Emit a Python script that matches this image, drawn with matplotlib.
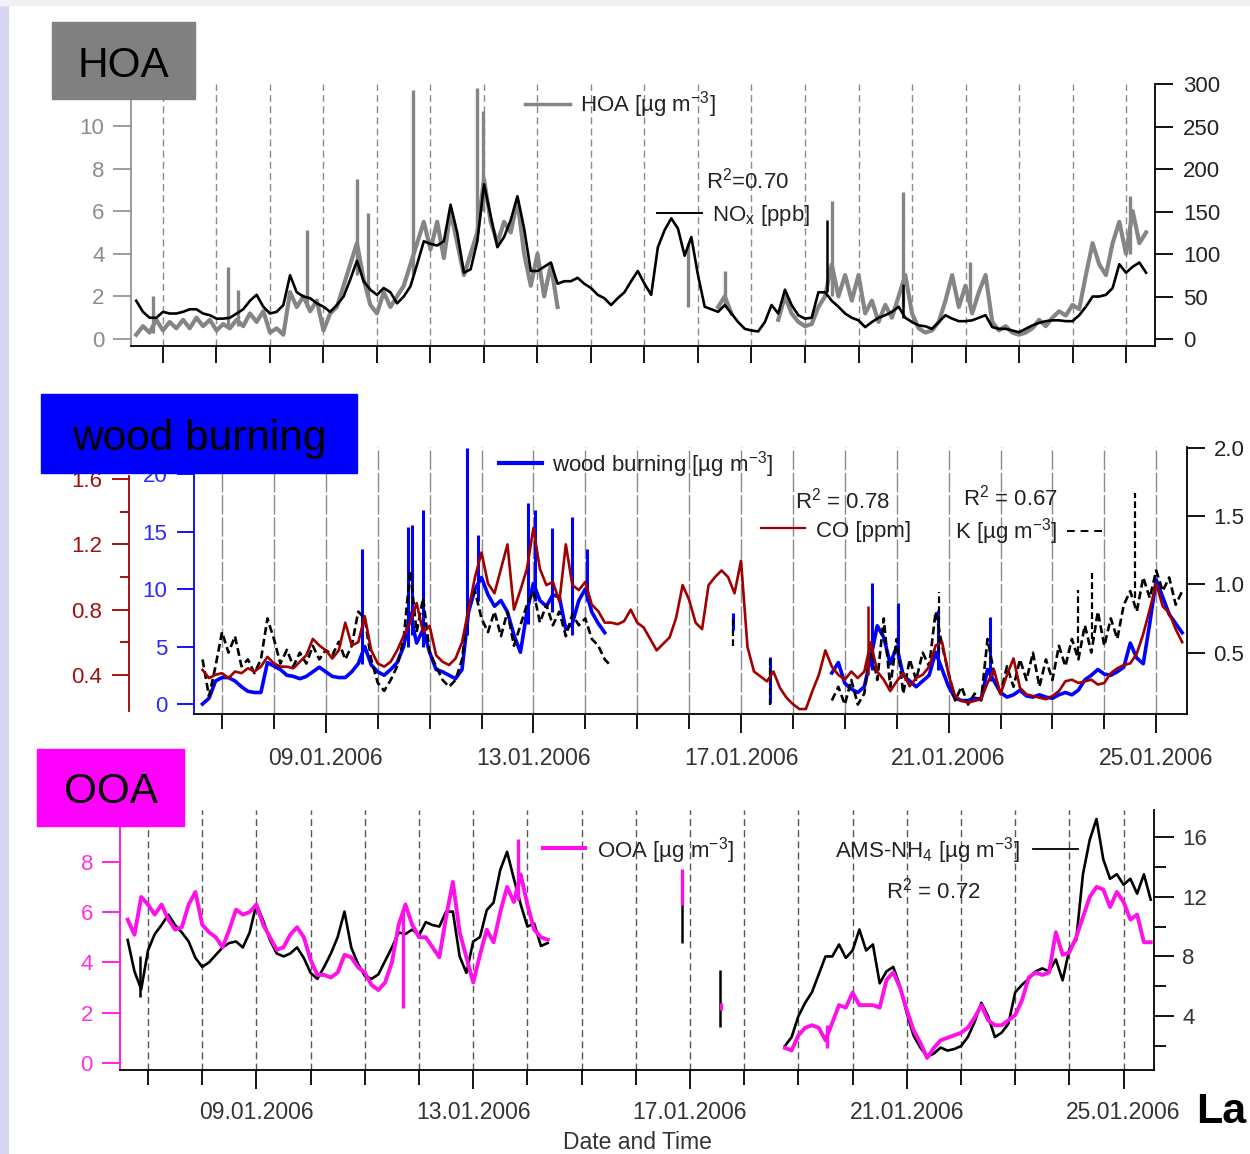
import numpy as np
import matplotlib.pyplot as plt
from matplotlib.patches import Rectangle
from matplotlib.lines import Line2D

plt.rcParams['font.family'] = ['Liberation Sans', 'DejaVu Sans']
plt.rcParams['mathtext.fontset'] = 'custom'
plt.rcParams['mathtext.rm'] = 'Liberation Sans'
plt.rcParams['mathtext.it'] = 'Liberation Sans:italic'
plt.rcParams['mathtext.bf'] = 'Liberation Sans:bold'

nan = np.nan
# all series are 3-hourly, time in days counted from 06.01.2006 00:00,
# first value at 06.01 12:00; every row below holds one day (noon to 09:00 next day)
T0, STEP = 0.5, 0.125

days = list(range(1, 20))
date_days = [3, 7, 11, 15, 19]
date_labels = ['09.01.2006', '13.01.2006', '17.01.2006', '21.01.2006', '25.01.2006']

# ---------------- HOA panel ----------------
hoa = [0.2, 0.6, 0.3, 0.9, 0.4, 0.8, 0.5, 0.9,
       0.5, 1.0, 0.6, 0.9, 0.4, 0.7, 0.5, 0.9,
       0.6, 1.2, 0.8, 1.3, 0.3, 0.5, 0.2, 2.2,
       1.5, 2.0, 1.3, 1.8, 0.4, 1.2, 1.5, 2.5,
       3.5, 4.5, 2.8, 1.6, 1.2, 2.2, 1.5, 2.0,
       2.5, 3.5, 4.5, 5.5, 4.2, 5.5, 3.8, 6.0,
       4.5, 3.0, 4.0, 5.0, 7.5, 5.5, 4.5, 5.5,
       5.0, 6.5, 4.0, 2.5, 4.0, 2.0, 3.5, 1.5,
       nan, nan, nan, nan, nan, nan, nan, nan,
       nan, nan, nan, nan, nan, nan, nan, nan,
       nan, nan, nan, nan, nan, nan, nan, 1.5,
       2.0, 1.2, nan, nan, nan, nan, nan, nan,
       0.9, 2.0, 1.2, 0.8, 0.6, 0.7, 1.5, 2.0,
       3.5, 2.0, 3.0, 1.8, 3.0, 1.2, 1.8, 0.8,
       1.6, 1.0, 2.0, 3.0, 1.2, 0.5, 0.3, 0.4,
       0.8, 1.8, 3.0, 1.5, 2.5, 1.2, 2.2, 3.0,
       0.8, 0.4, 0.6, 0.3, 0.2, 0.3, 0.5, 0.9,
       0.6, 1.0, 1.3, 1.1, 1.6, 1.4, 3.0, 4.5,
       3.5, 3.0, 4.5, 5.5, 4.0, 6.0, 4.5, 5.0]
nox = [45, 32, 25, 25, 32, 30, 30, 32,
       35, 35, 30, 28, 24, 24, 25, 30,
       35, 45, 52, 38, 30, 32, 40, 75,
       55, 50, 48, 42, 38, 32, 40, 50,
       70, 92, 68, 58, 52, 60, 55, 42,
       50, 62, 88, 115, 112, 110, 115, 158,
       125, 78, 82, 115, 182, 145, 108, 120,
       140, 168, 130, 80, 80, 85, 90, 65,
       68, 68, 72, 65, 60, 52, 48, 40,
       48, 55, 68, 80, 65, 52, 108, 128,
       142, 130, 98, 120, 75, 38, 35, 32,
       40, 30, 20, 12, 10, 9, 20, 40,
       30, 58, 40, 28, 24, 25, 55, 55,
       45, 38, 30, 25, 22, 14, 20, 25,
       28, 32, 38, 25, 20, 16, 15, 12,
       20, 28, 24, 21, 21, 22, 25, 28,
       14, 12, 12, 10, 8, 12, 16, 19,
       21, 22, 22, 21, 21, 28, 38, 50,
       50, 52, 60, 88, 78, 85, 90, 78]
# short spikes (day, low, high)
hoa_spk_day = [0.81, 2.22, 2.40, 3.69, 4.63, 4.83, 5.67, 6.87, 6.98, 10.81, 11.51, 13.51, 14.83, 16.08, 19.08]
hoa_spk_lo = [0.3, 0.5, 0.6, 1.5, 3.0, 2.0, 3.0, 5.0, 6.0, 1.5, 1.5, 2.0, 1.5, 1.5, 4.0]
hoa_spk_hi = [2.0, 3.4, 2.3, 5.1, 7.5, 5.9, 11.7, 11.8, 10.7, 4.5, 3.2, 6.5, 6.9, 3.6, 6.7]
nox_spk_day = [13.41, 14.83]
nox_spk_lo = [55, 25]
nox_spk_hi = [140, 65]

# ---------------- wood burning panel ----------------
wb = [nan, 0.0, 0.5, 2.0, 2.3, 2.3, 2.0, 1.5,
      1.1, 1.0, 1.0, 3.6, 3.3, 3.0, 2.5, 2.4,
      2.2, 2.4, 2.8, 3.2, 2.8, 2.4, 2.3, 2.3,
      2.8, 3.5, 5.0, 3.4, 2.8, 2.5, 3.0, 3.6,
      5.0, 7.9, 5.3, 6.5, 4.5, 3.0, 2.8, 2.5,
      2.2, 3.0, 8.0, 10.0, 11.0, 9.5, 8.5, 9.0,
      8.0, 6.0, 4.5, 8.0, 10.5, 9.0, 8.5, 9.5,
      9.3, 6.5, 7.0, 9.0, 10.0, 8.0, 7.0, 6.2,
      nan, nan, nan, nan, nan, nan, nan, nan,
      nan, nan, nan, nan, nan, nan, nan, nan,
      nan, nan, nan, nan, nan, nan, nan, nan,
      nan, nan, nan, nan, nan, nan, nan, nan,
      nan, nan, 2.7, 3.6, 1.8, 1.3, 1.0, 1.5,
      4.0, 6.8, 5.8, 3.5, 5.0, 2.5, 2.0, 1.5,
      2.0, 2.5, 4.5, 3.0, 1.5, 0.5, 0.3, 0.3,
      0.5, 0.4, 3.0, 2.0, 1.0, 0.6, 0.8, 1.2,
      0.7, 0.6, 0.8, 0.6, 0.5, 0.8, 1.0, 0.8,
      1.2, 2.1, 2.5, 3.0, 2.6, 2.5, 2.8, 3.2,
      5.3, 4.0, 3.5, 7.0, 10.8, 9.3, 7.8, 7.0,
      6.2]
co = [nan, 0.43, 0.38, 0.40, 0.41, 0.38, 0.42, 0.41,
      0.44, 0.42, 0.45, 0.51, 0.47, 0.45, 0.45, 0.44,
      0.48, 0.52, 0.62, 0.58, 0.55, 0.50, 0.55, 0.72,
      0.58, 0.60, 0.76, 0.55, 0.47, 0.45, 0.48, 0.55,
      0.64, 0.72, 0.84, 0.66, 0.70, 0.52, 0.48, 0.46,
      0.50, 0.60, 0.80, 1.00, 1.15, 0.96, 0.90, 1.05,
      1.20, 0.80, 0.92, 1.05, 1.30, 1.05, 0.95, 0.97,
      0.85, 1.20, 0.95, 0.92, 0.97, 0.83, 0.79, 0.72,
      0.72, 0.71, 0.73, 0.80, 0.72, 0.69, 0.62, 0.55,
      0.59, 0.63, 0.75, 0.95, 0.86, 0.72, 0.68, 0.95,
      1.00, 1.04, 1.00, 0.90, 1.10, 0.57, 0.42, 0.39,
      0.36, 0.42, 0.32, 0.26, 0.22, 0.19, 0.19, 0.30,
      0.40, 0.55, 0.45, 0.40, 0.37, 0.42, 0.38, 0.42,
      0.60, 0.42, 0.37, 0.30, 0.36, 0.41, 0.33, 0.38,
      0.40, 0.45, 0.58, 0.60, 0.40, 0.27, 0.24, 0.23,
      0.24, 0.25, 0.35, 0.43, 0.28, 0.40, 0.50, 0.32,
      0.28, 0.27, 0.26, 0.25, 0.27, 0.30, 0.36, 0.37,
      0.35, 0.36, 0.37, 0.34, 0.35, 0.41, 0.44, 0.46,
      0.47, 0.53, 0.65, 0.80, 0.96, 0.82, 0.78, 0.68,
      0.60]
k_conc = [nan, 0.45, 0.18, 0.40, 0.65, 0.50, 0.62, 0.40,
          0.45, 0.35, 0.45, 0.75, 0.60, 0.42, 0.52, 0.40,
          0.50, 0.42, 0.55, 0.45, 0.52, 0.48, 0.58, 0.45,
          0.55, 0.80, 0.75, 0.45, 0.28, 0.22, 0.30, 0.40,
          0.60, 1.10, 0.65, 0.90, 0.50, 0.40, 0.30, 0.25,
          0.30, 0.45, 0.85, 0.95, 0.75, 0.65, 0.80, 0.62,
          0.80, 0.55, 0.70, 0.85, 0.95, 0.72, 0.85, 0.70,
          0.80, 0.62, 0.78, 0.70, 0.75, 0.60, 0.55, 0.45,
          0.40, nan, nan, nan, nan, nan, nan, nan,
          nan, nan, nan, nan, nan, nan, nan, nan,
          nan, nan, nan, nan, nan, nan, nan, nan,
          nan, nan, nan, nan, nan, nan, nan, nan,
          nan, nan, 0.15, 0.25, 0.12, 0.30, 0.12, 0.20,
          0.55, 0.30, 0.75, 0.25, 0.60, 0.20, 0.45, 0.30,
          0.50, 0.40, 0.80, 0.55, 0.35, 0.15, 0.25, 0.12,
          0.20, 0.15, 0.60, 0.35, 0.20, 0.40, 0.25, 0.45,
          0.30, 0.50, 0.25, 0.45, 0.30, 0.55, 0.40, 0.60,
          0.45, 0.70, 0.50, 0.80, 0.55, 0.75, 0.60, 0.85,
          0.95, 0.80, 1.05, 0.90, 1.10, 0.95, 1.05, 0.85,
          0.95]
wb_spk_day = [3.70, 4.58, 4.66, 4.87, 5.72, 5.93, 6.90, 7.03, 7.36, 7.74, 8.03, 10.85, 11.56, 13.52, 14.03, 14.80, 15.80]
wb_spk_lo = [3.5, 5.0, 6.0, 5.0, 6.0, 9.0, 7.0, 9.0, 8.0, 6.0, 9.0, 6.4, 0.1, 3.0, 4.0, 3.0, 2.0]
wb_spk_hi = [13.5, 15.4, 15.6, 16.9, 22.3, 14.7, 17.5, 16.9, 15.3, 16.3, 13.5, 7.9, 4.1, 10.5, 8.8, 8.2, 7.6]
k_spk_day = [10.85, 11.56, 14.82, 17.49, 17.76, 18.59]
k_spk_lo = [0.55, 0.12, 0.50, 0.50, 0.60, 0.90]
k_spk_hi = [0.75, 0.45, 0.94, 0.96, 1.08, 1.67]
co_spk_day = [13.45]
co_spk_lo = [0.40]
co_spk_hi = [0.82]

# ---------------- OOA panel ----------------
ooa = [nan, 5.7, 5.1, 6.6, 6.3, 5.9, 6.3, 5.7,
       5.3, 5.4, 6.3, 6.8, 5.5, 5.2, 5.0, 4.6,
       5.3, 6.1, 5.9, 6.0, 6.3, 5.5, 5.0, 4.5,
       4.6, 5.1, 5.4, 5.0, 4.1, 3.5, 3.5, 3.4,
       3.6, 4.3, 4.2, 3.8, 3.6, 3.1, 2.9, 3.2,
       4.0, 5.5, 6.3, 5.5, 5.0, 5.0, 4.6, 4.2,
       5.8, 7.2, 5.2, 4.2, 3.2, 4.3, 5.3, 4.8,
       6.0, 7.0, 6.4, 7.5, 6.3, 5.3, 5.0, 4.9,
       nan, nan, nan, nan, nan, nan, nan, nan,
       nan, nan, nan, nan, nan, nan, nan, nan,
       nan, nan, nan, nan, nan, nan, nan, nan,
       nan, nan, nan, nan, nan, nan, nan, nan,
       nan, nan, 0.6, 0.5, 1.1, 1.4, 1.5, 1.4,
       0.9, 1.6, 2.3, 2.2, 2.8, 2.3, 2.3, 2.3,
       2.2, 3.3, 3.6, 3.0, 2.1, 1.3, 0.8, 0.2,
       0.6, 0.9, 1.0, 1.1, 1.2, 1.4, 1.8, 2.3,
       1.7, 1.5, 1.5, 1.7, 1.9, 2.5, 3.4, 3.6,
       3.5, 3.6, 5.2, 4.3, 4.4, 5.0, 5.8, 6.6,
       7.0, 6.9, 6.2, 6.8, 6.4, 5.7, 5.9, 4.8,
       4.8]
nh4 = [nan, 9.1, 7.0, 5.8, 8.4, 9.5, 10.1, 10.8,
       10.1, 9.6, 9.0, 7.9, 7.3, 7.6, 8.1, 8.6,
       8.9, 9.0, 8.6, 9.6, 11.5, 10.4, 9.1, 8.2,
       8.0, 8.2, 8.6, 7.9, 6.9, 6.5, 7.3, 8.2,
       9.3, 11.0, 8.6, 7.5, 6.7, 6.5, 6.8, 7.7,
       8.6, 9.6, 9.5, 9.8, 9.4, 10.3, 10.1, 10.0,
       11.0, 11.0, 8.0, 6.9, 9.0, 9.3, 11.1, 11.6,
       13.8, 15.0, 13.2, 11.5, 10.0, 10.2, 8.7, 8.9,
       nan, nan, nan, nan, nan, nan, nan, nan,
       nan, nan, nan, nan, nan, nan, nan, nan,
       nan, nan, nan, nan, nan, nan, nan, nan,
       nan, nan, nan, nan, nan, nan, nan, nan,
       nan, nan, 2.0, 2.6, 4.0, 4.9, 5.6, 6.8,
       8.0, 8.0, 8.8, 7.9, 8.4, 9.8, 8.4, 8.8,
       6.2, 7.0, 7.3, 6.0, 4.2, 2.7, 1.9, 1.3,
       1.5, 1.9, 1.7, 1.8, 2.0, 2.6, 3.6, 4.9,
       4.0, 2.6, 2.9, 3.5, 5.6, 6.1, 6.5, 7.0,
       7.2, 7.0, 7.8, 6.4, 8.5, 9.1, 13.5, 15.8,
       17.2, 14.5, 13.2, 13.5, 12.8, 13.2, 12.2, 13.5,
       11.8]
ooa_spk_day = [5.71, 7.83, 10.86, 11.58, 13.53]
ooa_spk_lo = [2.2, 6.5, 6.3, 2.1, 0.6]
ooa_spk_hi = [6.0, 8.9, 7.7, 2.4, 1.5]
nh4_spk_day = [0.85, 10.85, 11.55]
nh4_spk_lo = [5.3, 8.9, 3.3]
nh4_spk_hi = [8.0, 11.6, 7.1]


def times(vals):
    return T0 + STEP * np.arange(len(vals))


W, H = 1250, 1154
fig = plt.figure(figsize=(W / 100, H / 100), dpi=100)


def box(left, top, right, bottom):
    return [left / W, 1 - bottom / H, (right - left) / W, (bottom - top) / H]


def fxy(x, y):
    return x / W, 1 - y / H


def ftext(x, y, s, **kw):
    kw.setdefault('fontsize', 16)
    kw.setdefault('color', '#222222')
    kw.setdefault('va', 'baseline')
    fig.text(x / W, 1 - y / H, s, **kw)


def fline(x0, x1, y, **kw):
    fig.add_artist(Line2D([x0 / W, x1 / W], [1 - y / H, 1 - y / H], transform=fig.transFigure, **kw))


def title_box(left, top, right, bottom, color, label, base):
    fig.add_artist(Rectangle(fxy(left, bottom), (right - left) / W, (bottom - top) / H,
                             transform=fig.transFigure, facecolor=color,
                             edgecolor=color, lw=1, zorder=5))
    fig.text((left + right) / 2 / W, 1 - base / H, label, ha='center', va='baseline',
             fontsize=30.5, color='black', zorder=6)


def style_time_axis(ax, labelled, pad):
    if labelled:
        ax.set_xticks(date_days)
        ax.set_xticklabels(date_labels)
        ax.set_xticks([d for d in days if d not in date_days], minor=True)
        ax.tick_params(axis='x', which='major', length=13.8, width=1.3, direction='out',
                       color='black', labelcolor='#333333', labelsize=16.5, pad=pad)
        ax.tick_params(axis='x', which='minor', length=10.8, width=1.3, direction='out', color='black')
    else:
        ax.set_xticks(days)
        ax.set_xticklabels([])
        ax.tick_params(axis='x', length=12.2, width=1.3, direction='out', color='black')


# page background edges
fig.add_artist(Rectangle((0, 0), 8 / W, 1, transform=fig.transFigure, color='#d6d6f2', zorder=-1))
fig.add_artist(Rectangle((0, 1 - 5 / H), 1, 5 / H, transform=fig.transFigure, color='#f1f1f5', zorder=-1))

# ================= HOA =================
ax1 = fig.add_axes(box(131, 84, 1155, 346))
ax1.set_xlim(0.402, 19.542)
ax1.set_ylim(-0.33, 11.97)
ax1r = ax1.twinx()
ax1r.set_ylim(-8.2, 300)

for d in days:
    ax1.axvline(d, color='#8a8a8a', lw=1.0, dashes=(5, 3), zorder=0)
ax1.plot(times(hoa), hoa, color='#858585', lw=3.0)
ax1.vlines(hoa_spk_day, hoa_spk_lo, hoa_spk_hi, color='#858585', lw=2.4)
ax1r.plot(times(nox), nox, color='black', lw=1.9)
ax1r.vlines(nox_spk_day, nox_spk_lo, nox_spk_hi, color='black', lw=1.8)

style_time_axis(ax1, False, 0)
ax1.set_yticks([0, 2, 4, 6, 8, 10])
ax1.tick_params(axis='y', length=13, width=1.2, color='#8c8c8c', labelcolor='#8c8c8c', labelsize=16, pad=6)
ax1r.set_yticks([0, 50, 100, 150, 200, 250, 300])
ax1r.tick_params(axis='y', length=13, width=1.3, color='black', labelcolor='#222222', labelsize=16, pad=7)
for s in ['top', 'right']:
    ax1.spines[s].set_visible(False)
ax1.spines['left'].set_color('#8c8c8c')
ax1.spines['left'].set_linewidth(1.2)
ax1.spines['bottom'].set_linewidth(1.3)
for s in ['top', 'left', 'bottom']:
    ax1r.spines[s].set_visible(False)
ax1r.spines['right'].set_linewidth(1.3)

title_box(52, 22, 195, 99, '#808080', 'HOA', 77)
fline(525, 570, 104, color='#858585', lw=2.5)
ftext(580, 112, r'HOA [µg m$^{\mathregular{-3}}$]')
ftext(706, 188, r'R$^{\mathregular{2}}$=0.70')
fline(657, 702, 213, color='black', lw=1.4)
ftext(712, 221, r'NO$_{\mathregular{x}}$ [ppb]')

# ================= wood burning =================
ax2 = fig.add_axes(box(194, 447, 1187, 714))
ax2.set_xlim(0.4605, 19.593)
ax2.set_ylim(-0.87, 22.35)
ax2k = ax2.twinx()
ax2k.set_ylim(0.051, 2.004)
ax2c = ax2.twinx()
ax2c.set_ylim(0.1595, 1.7975)

for d in days:
    ax2.axvline(d, color='#8a8a8a', lw=1.0, dashes=(14, 2), zorder=0)
ax2.plot(times(wb), wb, color='#0000ff', lw=2.6)
ax2.vlines(wb_spk_day, wb_spk_lo, wb_spk_hi, color='#0000ff', lw=2.2)
ax2k.plot(times(k_conc), k_conc, color='black', lw=1.9, dashes=(3, 1.5))
ax2k.vlines(k_spk_day, k_spk_lo, k_spk_hi, color='black', lw=1.6, linestyles=(0, (3, 1.5)))
ax2c.plot(times(co), co, color='#a00000', lw=1.9)
ax2c.vlines(co_spk_day, co_spk_lo, co_spk_hi, color='#a00000', lw=1.8)

style_time_axis(ax2, True, 10)
ax2.set_yticks([0, 5, 10, 15, 20])
ax2.tick_params(axis='y', length=12.5, width=1.3, color='#0000ff', labelcolor='#2a2aff', labelsize=16, pad=6.5)
for s in ['top', 'right']:
    ax2.spines[s].set_visible(False)
ax2.spines['left'].set_color('#0000ff')
ax2.spines['left'].set_linewidth(1.3)
ax2.spines['left'].set_bounds(-0.87, 20)
ax2.spines['bottom'].set_linewidth(1.3)

ax2k.set_yticks([0.5, 1.0, 1.5, 2.0])
ax2k.set_yticklabels(['0.5', '1.0', '1.5', '2.0'])
ax2k.tick_params(axis='y', length=13, width=1.3, color='black', labelcolor='#222222', labelsize=16, pad=6)
for s in ['top', 'left', 'bottom']:
    ax2k.spines[s].set_visible(False)
ax2k.spines['right'].set_linewidth(1.3)

ax2c.yaxis.tick_left()
ax2c.spines['left'].set_visible(True)
ax2c.spines['left'].set_position(('outward', 46.8))
ax2c.spines['left'].set_bounds(0.18, 1.62)
ax2c.spines['left'].set_color('#a00000')
ax2c.spines['left'].set_linewidth(1.3)
for s in ['top', 'right', 'bottom']:
    ax2c.spines[s].set_visible(False)
ax2c.set_yticks([0.4, 0.8, 1.2, 1.6])
ax2c.set_yticklabels(['0.4', '0.8', '1.2', '1.6'])
ax2c.set_yticks([0.6, 1.0, 1.4], minor=True)
ax2c.tick_params(axis='y', which='major', length=12.5, width=1.3, color='#a00000',
                 labelcolor='#a01010', labelsize=16, pad=7)
ax2c.tick_params(axis='y', which='minor', length=6.5, width=1.3, color='#a00000')

title_box(41, 394, 357, 473, '#0000ff', 'wood burning', 450)
fline(499, 542, 463, color='#0000ff', lw=3)
ftext(552, 471, r'wood burning [µg m$^{\mathregular{-3}}$]')
ftext(795, 508, r'R$^{\mathregular{2}}$ = 0.78')
fline(761, 805, 528, color='#a00000', lw=1.6)
ftext(816, 537, 'CO [ppm]')
ftext(963, 505, r'R$^{\mathregular{2}}$ = 0.67')
ftext(955, 538, r'K [µg m$^{\mathregular{-3}}$]')
fline(1067, 1102, 531, color='black', lw=1.4, dashes=(4, 3))

# ================= OOA =================
ax3 = fig.add_axes(box(120, 810, 1154, 1070))
ax3.set_xlim(0.4834, 19.561)
ax3.set_ylim(-0.28, 10.06)
ax3r = ax3.twinx()
ax3r.set_ylim(0.4, 17.8)
ax3.set_zorder(ax3r.get_zorder() + 1)
ax3.patch.set_visible(False)

for d in days:
    ax3r.axvline(d, color='#555555', lw=1.0, dashes=(5, 3), zorder=0)
ax3r.plot(times(nh4), nh4, color='black', lw=1.9)
ax3r.vlines(nh4_spk_day, nh4_spk_lo, nh4_spk_hi, color='black', lw=1.8)
ax3.plot(times(ooa), ooa, color='#ff10e8', lw=2.8)
ax3.vlines(ooa_spk_day, ooa_spk_lo, ooa_spk_hi, color='#ff10e8', lw=2.4)

style_time_axis(ax3, True, 8.5)
ax3.set_yticks([0, 2, 4, 6, 8])
ax3.tick_params(axis='y', length=13, width=1.3, color='#ff10e8', labelcolor='#ff33dd', labelsize=16, pad=6.5)
for s in ['top', 'right']:
    ax3.spines[s].set_visible(False)
ax3.spines['left'].set_color('#ff10e8')
ax3.spines['left'].set_linewidth(1.3)
ax3.spines['bottom'].set_linewidth(1.3)

ax3r.set_yticks([4, 8, 12, 16])
ax3r.set_yticks([2, 6, 10, 14], minor=True)
ax3r.tick_params(axis='y', which='major', length=14.4, width=1.3, color='black',
                 labelcolor='#333333', labelsize=16, pad=6)
ax3r.tick_params(axis='y', which='minor', length=8.6, width=1.3, color='black')
for s in ['top', 'left', 'bottom']:
    ax3r.spines[s].set_visible(False)
ax3r.spines['right'].set_linewidth(1.3)

title_box(37, 749, 184, 826, '#ff00ff', 'OOA', 803)
fline(543, 585, 848, color='#ff10e8', lw=3)
ftext(597, 857, r'OOA [µg m$^{\mathregular{-3}}$]')
ftext(835, 857, r'AMS-NH$_{\mathregular{4}}$ [µg m$^{\mathregular{-3}}$]')
fline(1033, 1078, 849, color='black', lw=1.3)
ftext(886, 898, r'R$^{\mathregular{2}}$ = 0.72')
ftext(637, 1149, 'Date and Time', ha='center', fontsize=16.5, color='#333333')
ftext(1196, 1123, 'La', fontsize=31, fontweight='bold', color='black')

fig.savefig('out.png', dpi=100)
